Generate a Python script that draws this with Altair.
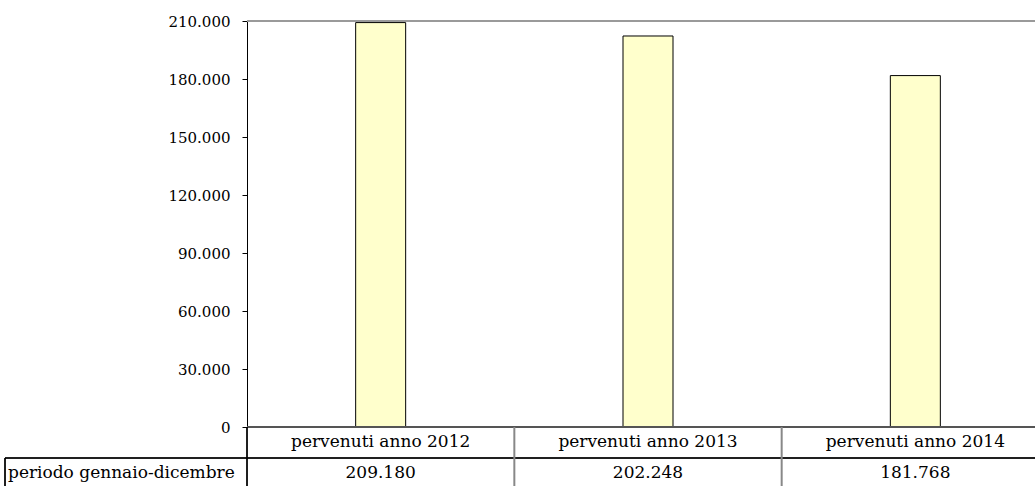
import altair as alt
import pandas as pd

categories = ["pervenuti anno 2012", "pervenuti anno 2013", "pervenuti anno 2014"]
values = [209180, 202248, 181768]
row_label = ["periodo gennaio-dicembre"]
y_ticks = [0, 30000, 60000, 90000, 120000, 150000, 180000, 210000]

FONT = "DejaVu Serif"
W, H = 788, 406          # plot area
XR = 802                 # full category range (last band runs past the window)
ROW1, ROW2, ROWEND = H, H + 31, H + 70
LEFT = -242

df = pd.DataFrame({"cat": categories, "value": values})
df["label"] = [f"{v:,}".replace(",", ".") for v in values]
df_div = df.iloc[1:].copy()
df_row = pd.DataFrame({"t": row_label})

xs = alt.Scale(domain=categories, range=[0, XR], paddingInner=0, paddingOuter=0)
ys = alt.Scale(domain=[0, 210000], nice=False)

base = alt.Chart(df)

bars = base.mark_bar(width=50, fill="#FFFFCC", stroke="black", strokeWidth=1).encode(
    x=alt.X("cat:N", scale=xs, axis=None, sort=categories),
    y=alt.Y(
        "value:Q",
        scale=ys,
        axis=alt.Axis(
            title=None,
            values=y_ticks,
            labelExpr="replace(format(datum.value, ','), ',', '.')",
            labelFont=FONT,
            labelFontSize=15,
            labelColor="black",
            labelPadding=12,
            tickColor="black",
            tickSize=5,
            domainColor="black",
            domainWidth=1,
            gridColor="#9a9a9a",
            gridWidth=1,
        ),
    ),
)

top_rule = alt.Chart(df).mark_rule(color="#9a9a9a", strokeWidth=2).encode(
    y=alt.datum(210000), x=alt.value(0), x2=alt.value(XR)
)

bottom_line = alt.Chart(df).mark_rule(color="#555555", strokeWidth=2).encode(
    x=alt.value(0), x2=alt.value(XR), y=alt.value(ROW1)
)
row_line = alt.Chart(df).mark_rule(color="black", strokeWidth=1).encode(
    x=alt.value(LEFT), x2=alt.value(XR), y=alt.value(ROW2)
)
left_border = alt.Chart(df).mark_rule(color="black", strokeWidth=1).encode(
    x=alt.value(LEFT), y=alt.value(ROW2), y2=alt.value(ROWEND)
)
axis_ext = alt.Chart(df).mark_rule(color="black", strokeWidth=1).encode(
    x=alt.value(0), y=alt.value(ROW1), y2=alt.value(ROWEND)
)
dividers = alt.Chart(df_div).mark_rule(color="#888888", strokeWidth=2).encode(
    x=alt.X("cat:N", scale=xs, sort=categories, bandPosition=0),
    y=alt.value(ROW1),
    y2=alt.value(ROWEND),
)

header = base.mark_text(font=FONT, fontSize=17, color="black", baseline="middle").encode(
    x=alt.X("cat:N", scale=xs, sort=categories),
    y=alt.value(ROW1 + 15),
    text="cat:N",
)
vals = base.mark_text(font=FONT, fontSize=17, color="black", baseline="middle").encode(
    x=alt.X("cat:N", scale=xs, sort=categories),
    y=alt.value(ROW2 + 15),
    text="label:N",
)
rowlab = alt.Chart(df_row).mark_text(
    font=FONT, fontSize=17, color="black", baseline="middle", align="left"
).encode(x=alt.value(LEFT + 3), y=alt.value(ROW2 + 15), text="t:N")

chart = (
    alt.layer(top_rule, bars, bottom_line, row_line, left_border, axis_ext, dividers, header, vals, rowlab)
    .properties(
        width=W,
        height=H,
        autosize=alt.AutoSizeParams(type="none"),
        padding={"left": 247, "top": 21, "right": 0, "bottom": 59},
        background="white",
    )
    .configure_view(stroke=None)
)

chart.save("out.html", embed_options={"renderer": "svg", "actions": False})
